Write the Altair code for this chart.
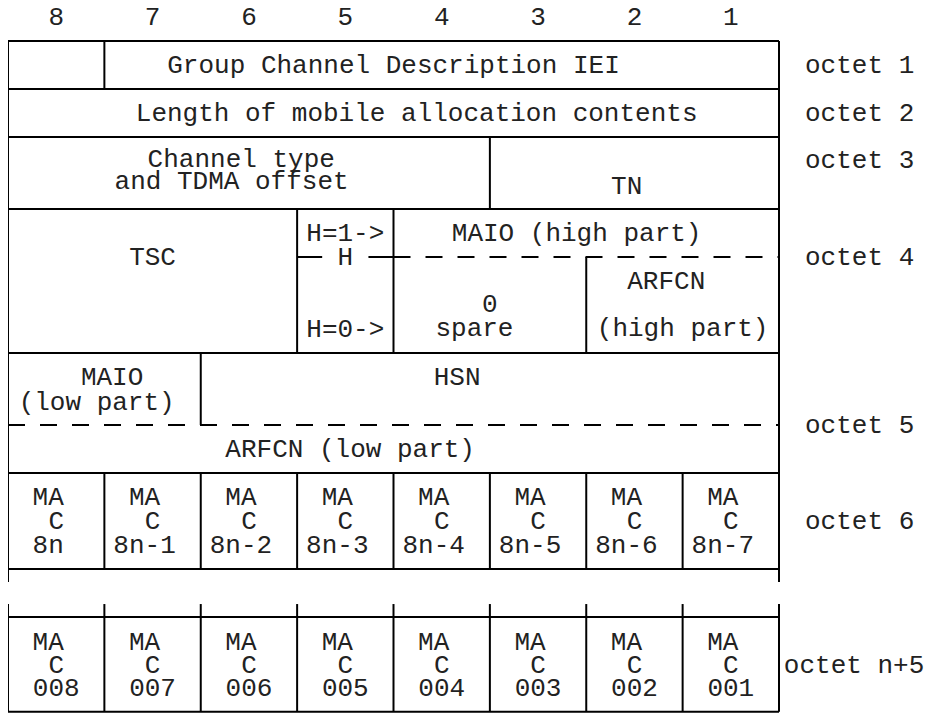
import altair as alt
import pandas as pd

# ---------------- data (diagram content) ----------------
bit_numbers = ["8", "7", "6", "5", "4", "3", "2", "1"]

octet_labels = ["octet 1", "octet 2", "octet 3", "octet 4", "octet 5", "octet 6", "octet n+5"]
octet_label_rows = [1.0, 3.0, 4.96, 9.0, 16.0, 20.0, 26.0]

# field texts: (text, bit-column centre, line row)
field_texts = [
    ("Group Channel Description IEI", 4.0, 1.0),
    ("Length of mobile allocation contents", 4.24, 3.0),
    ("Channel type", 2.42, 4.9),
    ("and TDMA offset", 2.32, 5.85),
    ("TN", 6.42, 6.04),
    ("TSC", 1.5, 9.0),
    ("H=1->", 3.5, 8.0),
    ("H", 3.5, 9.0),
    ("H=0->", 3.5, 12.0),
    ("MAIO (high part)", 5.9, 8.0),
    ("0", 5.0, 10.96),
    ("spare", 4.84, 11.96),
    ("ARFCN", 6.83, 10.0),
    ("(high part)", 7.0, 11.96),
    ("MAIO", 1.08, 14.0),
    ("(low part)", 0.92, 15.04),
    ("HSN", 4.66, 14.0),
    ("ARFCN (low part)", 3.55, 17.0),
]

ma_top_index = ["8n", "8n-1", "8n-2", "8n-3", "8n-4", "8n-5", "8n-6", "8n-7"]
ma_bottom_index = ["008", "007", "006", "005", "004", "003", "002", "001"]

# ---------------- layout of the grid (bit units x line units) ----------------
full_h_rows = [0, 2, 4, 7, 13, 18, 22, 24, 27.95]
h_segments = [(3.0, 3.26, 9.0), (3.74, 4.0, 9.0)]
dashed_segments = [(4.0, 8.0, 9.0), (0.0, 8.0, 16.0)]
v_segments = [
    (0, 0, 22.54), (8, 0, 22.54), (0, 23.46, 27.95), (8, 23.46, 27.95),
    (1, 0, 2), (5, 4, 7), (3, 7, 13), (4, 7, 13), (6, 9, 13), (2, 13, 16),
]
for c in range(1, 8):
    v_segments.append((c, 18, 22))
    v_segments.append((c, 23.46, 27.95))

h_rows = [(0.0, 8.0, y) for y in full_h_rows] + h_segments
h_df = pd.DataFrame(h_rows, columns=["x", "x2", "y"])
d_df = pd.DataFrame(dashed_segments, columns=["x", "x2", "y"])
v_df = pd.DataFrame(v_segments, columns=["x", "y", "y2"])

texts = []
for i, b in enumerate(bit_numbers):
    texts.append((b, i + 0.5, -0.98))
texts += field_texts
for i in range(8):
    texts.append(("MA", i + 0.5 - 0.083, 19.0))
    texts.append(("C", i + 0.5, 20.0))
    texts.append((ma_top_index[i], i + 0.5 - 0.083, 21.0))
    texts.append(("MA", i + 0.5 - 0.083, 25.04))
    texts.append(("C", i + 0.5, 26.0))
    texts.append((ma_bottom_index[i], i + 0.5, 26.96))
t_df = pd.DataFrame(texts, columns=["label", "x", "y"])

o_df = pd.DataFrame({
    "label": octet_labels,
    "x": [8.27] * 6 + [8.05],
    "y": octet_label_rows,
})

PX_PER_BIT = 771 / 8
W = 917
xs = alt.Scale(domain=[0, W / PX_PER_BIT], nice=False, zero=False)
ys = alt.Scale(domain=[-1.375, 28], reverse=True, nice=False, zero=False)

FONT = "Liberation Mono"
FS = 26
INK = "#222222"

hlines = alt.Chart(h_df).mark_rule(color="black", strokeWidth=2).encode(
    x=alt.X("x:Q", scale=xs, axis=None), x2="x2:Q",
    y=alt.Y("y:Q", scale=ys, axis=None))

dlines = alt.Chart(d_df).mark_rule(color="black", strokeWidth=2, strokeDash=[17, 15]).encode(
    x=alt.X("x:Q", scale=xs, axis=None), x2="x2:Q",
    y=alt.Y("y:Q", scale=ys, axis=None))

vlines = alt.Chart(v_df).mark_rule(color="black", strokeWidth=2).encode(
    x=alt.X("x:Q", scale=xs, axis=None),
    y=alt.Y("y:Q", scale=ys, axis=None), y2="y2:Q")

labels = alt.Chart(t_df).mark_text(
    font=FONT, fontSize=FS, color=INK, align="center", baseline="middle").encode(
    x=alt.X("x:Q", scale=xs, axis=None),
    y=alt.Y("y:Q", scale=ys, axis=None),
    text="label:N")

octets = alt.Chart(o_df).mark_text(
    font=FONT, fontSize=FS, color=INK, align="left", baseline="middle").encode(
    x=alt.X("x:Q", scale=xs, axis=None),
    y=alt.Y("y:Q", scale=ys, axis=None),
    text="label:N")

chart = alt.layer(hlines, dlines, vlines, labels, octets).properties(
    width=W, height=705, padding=0, background="white",
    autosize=alt.AutoSizeParams(type="none")
).configure_view(stroke=None)

chart.save("out.html", embed_options={"renderer": "svg", "actions": False})
